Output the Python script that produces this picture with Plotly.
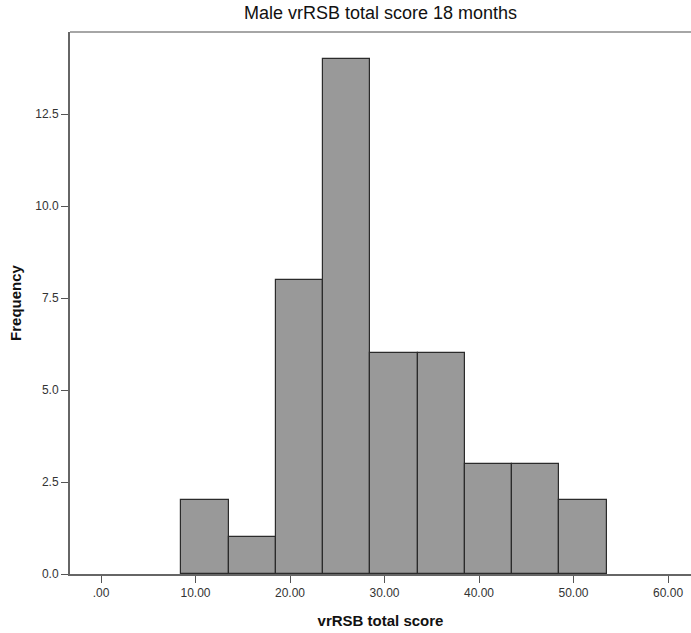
import plotly.graph_objects as go

bin_centers = [11, 16, 21, 26, 31, 36, 41, 46, 51]
frequencies = [2, 1, 8, 14, 6, 6, 3, 3, 2]
bin_width = 5
x_tick_vals = [0, 10, 20, 30, 40, 50, 60]
x_tick_text = [".00", "10.00", "20.00", "30.00", "40.00", "50.00", "60.00"]
y_tick_vals = [0, 2.5, 5, 7.5, 10, 12.5]
y_tick_text = ["0.0", "2.5", "5.0", "7.5", "10.0", "12.5"]

W, H = 691, 633
ml, mr, mt, mb = 70, 0, 32, 59

fig = go.Figure()
fig.add_trace(go.Bar(
    x=bin_centers, y=frequencies, width=[bin_width] * len(bin_centers),
    marker=dict(color="#999999", line=dict(color="#2b2b2b", width=1.2)),
    hoverinfo="x+y",
))

fig.update_layout(
    width=W, height=H,
    margin=dict(l=ml, r=mr, t=mt, b=mb),
    paper_bgcolor="white", plot_bgcolor="white",
    showlegend=False,
    font=dict(family="Liberation Sans, Arial, sans-serif", color="#333333"),
    title=dict(text="Male vrRSB total score 18 months",
               x=0.5, xanchor="center", xref="paper",
               y=1 - 13 / H, yanchor="middle", yref="container",
               font=dict(size=18, color="#111111", family="Liberation Sans, Arial")),
    xaxis=dict(range=[-3.28, 62.43], tickvals=x_tick_vals, ticktext=x_tick_text,
               ticks="outside", ticklen=7, tickcolor="#555555", tickwidth=1,
               showline=True, linecolor="#666666", linewidth=2,
               showgrid=False, zeroline=False,
               tickfont=dict(size=12, color="#333333"),
               title=dict(text="<b>vrRSB total score</b>", font=dict(size=15, color="#111111"), standoff=16)),
    yaxis=dict(range=[0, 14.73], tickvals=y_tick_vals, ticktext=y_tick_text,
               ticks="outside", ticklen=7, tickcolor="#555555", tickwidth=1,
               showline=True, linecolor="#666666", linewidth=2,
               showgrid=False, zeroline=False,
               tickfont=dict(size=12, color="#333333"),
               title=dict(text="<b>Frequency</b>", font=dict(size=15, color="#111111"), standoff=10)),
    bargap=0,
)

fig.add_shape(type="line", xref="paper", yref="paper", x0=0, x1=1, y0=1, y1=1,
              line=dict(color="#888888", width=1.5))

fig.write_html("out.html")
